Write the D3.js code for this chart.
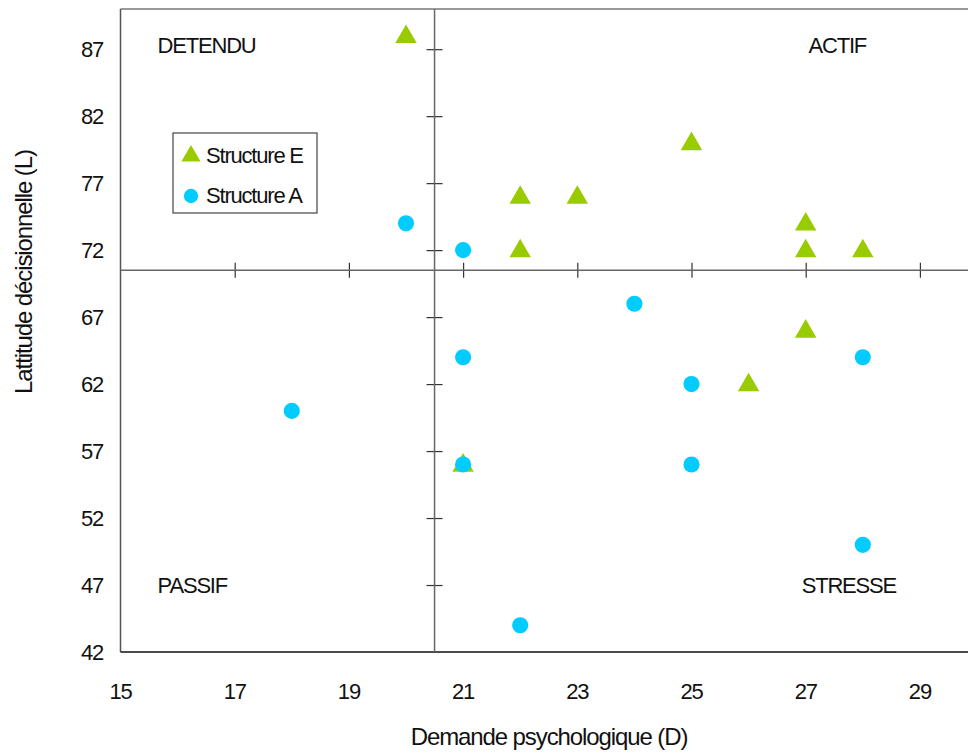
<!DOCTYPE html>
<html>
<head>
<meta charset="utf-8">
<script src="https://cdn.jsdelivr.net/npm/d3@7"></script>
<style>
  body { margin: 0; background: #fff; }
  text { font-family: "Liberation Sans", Arial, sans-serif; font-size: 22px; letter-spacing: -1.2px; fill: #111; }
  text.title { font-size: 24px; letter-spacing: -1.1px; }
</style>
</head>
<body>
<div class="chart"></div>
<script>
(function() {
  'use strict';

  const WIDTH = 968;
  const HEIGHT = 756;

  // Structure E (triangles)
  const structE = [
    [20, 88], [25, 80], [22, 76], [23, 76], [27, 74], [22, 72],
    [27, 72], [28, 72], [27, 66], [26, 62], [21, 56]
  ];
  // Structure A (circles)
  const structA = [
    [20, 74], [21, 72], [24, 68], [21, 64], [25, 62], [28, 64],
    [18, 60], [21, 56], [25, 56], [28, 50], [22, 44]
  ];

  const xTicks = [15, 17, 19, 21, 23, 25, 27, 29];
  const yTicks = [42, 47, 52, 57, 62, 67, 72, 77, 82, 87];
  const crossX = 20.5;   // median D
  const crossY = 70.5;   // median L
  const quadrants = [
    {label: 'DETENDU', x: 15.65, y: 86.7},
    {label: 'ACTIF',   x: 27.05, y: 86.7},
    {label: 'PASSIF',  x: 15.65, y: 46.4},
    {label: 'STRESSE', x: 26.93, y: 46.4}
  ];
  const series = [
    {name: 'Structure E', data: structE, shape: d3.symbolTriangle, color: '#99cc00'},
    {name: 'Structure A', data: structA, shape: d3.symbolCircle, color: '#00ccff'}
  ];

  const x = d3.scaleLinear().domain([15, 30]).range([120.5, 977]);
  const y = d3.scaleLinear().domain([42, 90]).range([652, 9]);

  const svg = d3.select('.chart')
    .append('svg')
    .attr('width', WIDTH)
    .attr('height', HEIGHT);

  // Frame
  svg.append('line')
    .attr('x1', x(15)).attr('x2', x(30))
    .attr('y1', y(90)).attr('y2', y(90))
    .attr('stroke', '#777').attr('stroke-width', 1.5);
  svg.append('line')
    .attr('x1', x(15)).attr('x2', x(15))
    .attr('y1', y(90)).attr('y2', y(42))
    .attr('stroke', '#555').attr('stroke-width', 1.5);
  svg.append('line')
    .attr('x1', x(15)).attr('x2', x(30))
    .attr('y1', y(42)).attr('y2', y(42))
    .attr('stroke', '#111').attr('stroke-width', 1.5);

  // Tick labels on the outer frame
  svg.append('g').selectAll('text')
    .data(xTicks).join('text')
    .attr('x', d => x(d))
    .attr('y', 699)
    .attr('text-anchor', 'middle')
    .text(d => d);
  svg.append('g').selectAll('text')
    .data(yTicks).join('text')
    .attr('x', 103)
    .attr('y', d => y(d) + 8)
    .attr('text-anchor', 'end')
    .text(d => d);

  // Crosshair axes through the medians
  const vAxis = d3.axisLeft(y).tickValues(yTicks.slice(1)).tickSize(16).tickFormat('');
  svg.append('g')
    .attr('transform', 'translate(' + (x(crossX) + 8) + ',0)')
    .call(vAxis)
    .call(g => g.select('.domain').remove())
    .call(g => g.selectAll('.tick line').attr('stroke', '#333').attr('stroke-width', 1.2));
  const hAxis = d3.axisBottom(x).tickValues(xTicks.slice(1)).tickSize(15).tickFormat('');
  svg.append('g')
    .attr('transform', 'translate(0,' + (y(crossY) - 7.5) + ')')
    .call(hAxis)
    .call(g => g.select('.domain').remove())
    .call(g => g.selectAll('.tick line').attr('stroke', '#333').attr('stroke-width', 1.2));

  svg.append('line')
    .attr('x1', x(crossX)).attr('x2', x(crossX))
    .attr('y1', y(90)).attr('y2', y(42))
    .attr('stroke', '#666').attr('stroke-width', 1.5);
  svg.append('line')
    .attr('x1', x(15)).attr('x2', x(30))
    .attr('y1', y(crossY)).attr('y2', y(crossY))
    .attr('stroke', '#666').attr('stroke-width', 1.5);

  // Quadrant labels
  svg.append('g').selectAll('text')
    .data(quadrants).join('text')
    .attr('x', d => x(d.x))
    .attr('y', d => y(d.y))
    .text(d => d.label);

  // Points
  series.forEach(function(s) {
    const sym = d3.symbol().type(s.shape).size(s.shape === d3.symbolTriangle ? 200 : 205);
    svg.append('g').selectAll('path')
      .data(s.data).join('path')
      .attr('d', sym)
      .attr('transform', d => 'translate(' + x(d[0]) + ',' + (y(d[1]) + (s.shape === d3.symbolTriangle ? 1 : 0)) + ')')
      .attr('fill', s.color);
  });

  // Legend
  const legend = svg.append('g').attr('transform', 'translate(173,133)');
  legend.append('rect')
    .attr('width', 144).attr('height', 80)
    .attr('fill', '#fff').attr('stroke', '#444').attr('stroke-width', 1.2);
  series.forEach(function(s, i) {
    const sym = d3.symbol().type(s.shape).size(160);
    legend.append('path')
      .attr('d', sym)
      .attr('transform', 'translate(18,' + (23 + i * 40) + ')')
      .attr('fill', s.color);
    legend.append('text')
      .attr('x', 33)
      .attr('y', 30 + i * 40)
      .text(s.name);
  });

  // Axis titles
  svg.append('text')
    .attr('class', 'title')
    .attr('x', 549)
    .attr('y', 745)
    .attr('text-anchor', 'middle')
    .text('Demande psychologique (D)');
  svg.append('text')
    .attr('class', 'title')
    .attr('transform', 'translate(32,272) rotate(-90)')
    .attr('text-anchor', 'middle')
    .text('Lattitude décisionnelle (L)');
})();
</script>
</body>
</html>
